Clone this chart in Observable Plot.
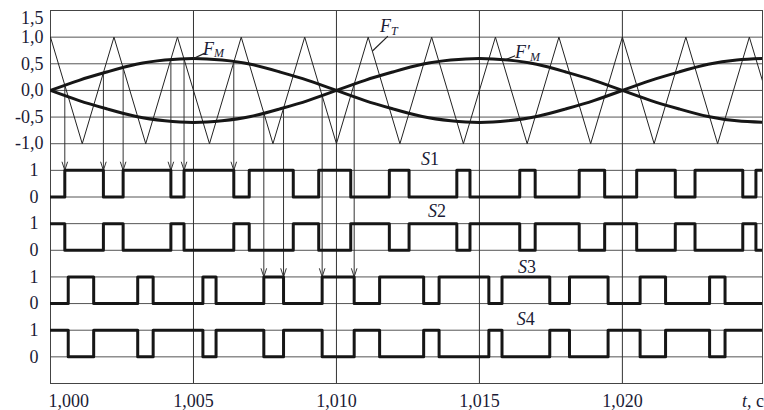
<!DOCTYPE html>
<html><head><meta charset="utf-8">
<script src="https://cdn.jsdelivr.net/npm/d3@7"></script>
<script src="https://cdn.jsdelivr.net/npm/@observablehq/plot@0.6"></script>
<style>body{margin:0;background:#fff}svg{display:block}</style>
</head><body><div id="chart"></div>
<script>
// times are in ms after t = 1,000 s
const sineT = [0,1,2,3,4,5,6,7,8,9,10,11,12,13,14,15,16,17,18,19,20,21,22,23,24,25];
const fmValues = [0,0.19,0.35,0.49,0.57,0.60,0.57,0.49,0.35,0.19,0,-0.19,-0.35,-0.49,-0.57,-0.60,-0.57,-0.49,-0.35,-0.19,0,0.19,0.35,0.49,0.57,0.60];
const fmPrimeValues = [0,-0.19,-0.35,-0.49,-0.57,-0.60,-0.57,-0.49,-0.35,-0.19,0,0.19,0.35,0.49,0.57,0.60,0.57,0.49,0.35,0.19,0,-0.19,-0.35,-0.49,-0.57,-0.60];
const carrierT = [0,1.11,2.22,3.33,4.44,5.56,6.67,7.78,8.89,10.0,11.11,12.22,13.33,14.44,15.56,16.67,17.78,18.89,20.0,21.11,22.22,23.33,24.44,25.56];
const carrierValues = [1,-1,1,-1,1,-1,1,-1,1,-1,1,-1,1,-1,1,-1,1,-1,1,-1,1,-1,1,-1];

const s1Start = 0;
const s1Edges = [0.50,1.85,2.54,4.21,4.67,6.41,6.95,8.49,9.38,10.50,11.85,12.54,14.21,14.67,16.41,16.95,18.49,19.38,20.50,21.85,22.54,24.21,24.67];
const s2Start = 1;
const s2Edges = [0.50,1.85,2.54,4.21,4.67,6.41,6.95,8.49,9.38,10.50,11.85,12.54,14.21,14.67,16.41,16.95,18.49,19.38,20.50,21.85,22.54,24.21,24.67];
const s3Start = 0;
const s3Edges = [0.62,1.51,3.05,3.59,5.33,5.79,7.46,8.15,9.50,10.62,11.51,13.05,13.59,15.33,15.79,17.46,18.15,19.50,20.62,21.51,23.05,23.59];
const s4Start = 1;
const s4Edges = [0.62,1.51,3.05,3.59,5.33,5.79,7.46,8.15,9.50,10.62,11.51,13.05,13.59,15.33,15.79,17.46,18.15,19.50,20.62,21.51,23.05,23.59];
const signalNames = ["S1","S2","S3","S4"];

const arrowS1T = [0.50,1.85,2.54,4.21,4.67,6.41];
const arrowS1From = [0.09,0.33,0.43,0.58,0.60,0.54];
const arrowS3T = [7.46,8.15,9.50,10.62];
const arrowS3From = [-0.43,-0.33,-0.09,0.12];

const yTickValues = [1.5,1.0,0.5,0,-0.5,-1.0];
const yTickLabels = ["1,5","1,0","0,5","0,0","-0,5","-1,0"];
const xTickValues = [1.000,1.005,1.010,1.015,1.020];
const xTickLabels = ["1,000","1,005","1,010","1,015","1,020"];
const levelLabels = ["1","0"];

// ---- build tables ----
const ms = v => 1 + v / 1000;
const rowBase = [-2,-3,-4,-5];
const sig = [[s1Start,s1Edges],[s2Start,s2Edges],[s3Start,s3Edges],[s4Start,s4Edges]];
const steps = [];
sig.forEach(([start, edges], i) => {
  const b = rowBase[i];
  let lvl = start;
  steps.push({row: signalNames[i], t: ms(0), v: b + 0.5*lvl});
  edges.forEach(e => { lvl = 1 - lvl; steps.push({row: signalNames[i], t: ms(e), v: b + 0.5*lvl}); });
  steps.push({row: signalNames[i], t: ms(25), v: b + 0.5*lvl});
});
const fm = sineT.map((t,i) => ({t: ms(t), v: fmValues[i]}));
const fmp = sineT.map((t,i) => ({t: ms(t), v: fmPrimeValues[i]}));
const carrier = carrierT.map((t,i) => ({t: ms(t), v: carrierValues[i]}));
const arrows = [
  ...arrowS1T.map((t,i) => ({t: ms(t), from: arrowS1From[i], to: rowBase[0] + 0.5})),
  ...arrowS3T.map((t,i) => ({t: ms(t), from: arrowS3From[i], to: rowBase[2] + 0.5}))
];
const levelTicks = [];
rowBase.forEach(b => { levelTicks.push({y: b + 0.5, label: levelLabels[0]}); levelTicks.push({y: b, label: levelLabels[1]}); });
const gridY = [...yTickValues, ...levelTicks.map(d => d.y)];

const leaders = [
  {x1: ms(11.26), y1: 0.74, x2: ms(11.80), y2: 1.02},
  {x1: ms(5.00), y1: 0.60, x2: ms(5.40), y2: 0.70},
  {x1: ms(15.92), y1: 0.58, x2: ms(16.25), y2: 0.65}
];

const ink = "#1b1b35";
const chart = Plot.plot({
  width: 764, height: 410,
  marginLeft: 50, marginRight: 2, marginTop: 10, marginBottom: 27,
  x: {domain: [1.0, 1.0249], axis: null},
  y: {domain: [-5.5, 1.5], axis: null},
  style: {fontFamily: "'Liberation Serif', serif", fontSize: "18px", color: ink, background: "#fff"},
  marks: [
    Plot.ruleY(gridY, {stroke: "#555", strokeWidth: 1}),
    Plot.ruleX(xTickValues, {stroke: "#333", strokeWidth: 1}),
    Plot.frame({stroke: "#444", strokeWidth: 1}),
    Plot.line(carrier, {x: "t", y: "v", stroke: "#222", strokeWidth: 1, clip: true}),
    Plot.arrow(arrows, {x1: "t", x2: "t", y1: "from", y2: "to", stroke: "#333", strokeWidth: 1, headAngle: 36, headLength: 13}),
    Plot.line(fm, {x: "t", y: "v", curve: "natural", stroke: "#161616", strokeWidth: 3, clip: true}),
    Plot.line(fmp, {x: "t", y: "v", curve: "natural", stroke: "#161616", strokeWidth: 3, clip: true}),
    Plot.line(steps, {x: "t", y: "v", z: "row", curve: "step-after", stroke: "#161616", strokeWidth: 3, clip: true}),
    Plot.link(leaders, {x1: "x1", y1: "y1", x2: "x2", y2: "y2", stroke: "#222", strokeWidth: 1.2}),
    Plot.text(yTickValues.slice(1), {x: () => 1.0, y: d => d, text: (d,i) => yTickLabels[i+1], textAnchor: "end", dx: -7, fill: ink, fontSize: 18}),
    Plot.text([yTickValues[0]], {x: () => 1.0, y: d => d, text: () => yTickLabels[0], textAnchor: "end", dx: -7, dy: 8, fill: ink, fontSize: 18}),
    Plot.text(levelTicks, {x: () => 1.0, y: "y", text: "label", textAnchor: "end", dx: -12, fill: ink, fontSize: 18}),
    Plot.text(xTickValues.slice(1), {x: d => d, y: () => -5.5, text: (d,i) => xTickLabels[i+1], dy: 18, fill: ink, fontSize: 18}),
    Plot.text([xTickValues[0]], {x: d => d, y: () => -5.5, text: () => xTickLabels[0], textAnchor: "start", dx: -2, dy: 18, fill: ink, fontSize: 18})
  ]
});
document.getElementById("chart").append(chart);

// rich-text labels (italic, subscripts) placed through the plot's scales
const X = v => chart.scale("x").apply(v), Y = v => chart.scale("y").apply(v);
const svg = d3.select(chart);
function rich(x, y, parts, anchor) {
  const t = svg.append("text").attr("x", x).attr("y", y).attr("fill", ink)
    .attr("font-family", "'Liberation Serif', serif").attr("font-size", 18)
    .attr("text-anchor", anchor || "start");
  parts.forEach(p => {
    const s = t.append("tspan").text(p.s);
    if (p.it) s.attr("font-style", "italic");
    if (p.sub) s.attr("font-size", 12).attr("dy", p.dy || 4);
    if (p.dx) s.attr("dx", p.dx);
  });
}
rich(X(ms(11.54)), Y(1.087), [{s: "F", it: 1}, {s: "T", it: 1, sub: 1, dy: 3}]);
rich(X(ms(5.35)), Y(0.66), [{s: "F", it: 1}, {s: "M", it: 1, sub: 1, dy: 2}]);
rich(X(ms(16.26)), Y(0.60), [{s: "F′", it: 1}, {s: "M", it: 1, sub: 1, dy: 3}]);
const sLabelPos = [[13.29, -1.41], [13.53, -2.385], [16.68, -3.435], [16.64, -4.41]];
signalNames.forEach((n, i) => rich(X(ms(sLabelPos[i][0])), Y(sLabelPos[i][1]), [{s: "S", it: 1}, {s: n.slice(1)}], "middle"));
rich(764, Y(-5.5) + 24, [{s: "t", it: 1}, {s: ", c"}], "end");
</script></body></html>
